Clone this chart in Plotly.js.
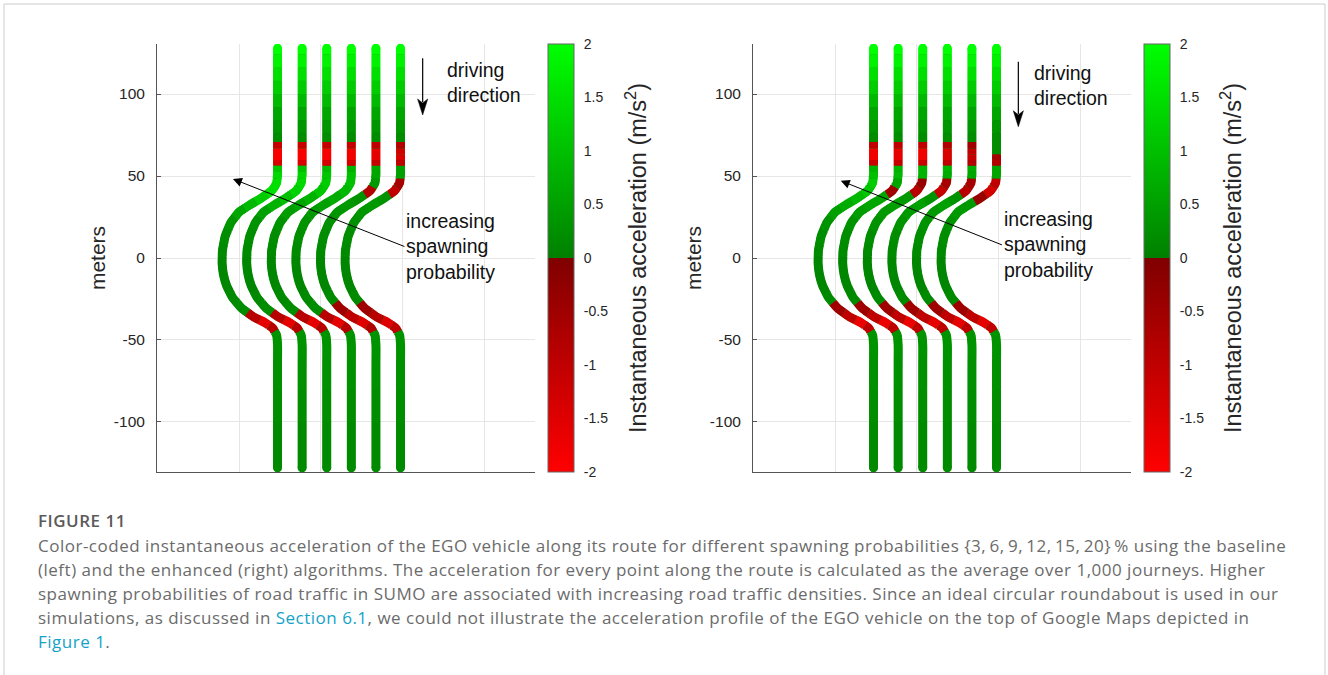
<!DOCTYPE html>
<html><head><meta charset="utf-8">
<script src="https://cdn.plot.ly/plotly-3.0.1.min.js"></script>
<style>html,body{margin:0;padding:0;background:#fff;}#chart{width:1328px;height:675px;}</style>
</head><body><div id="chart"></div>
<script>
// ---------- data ----------
const SPAWN = [3, 6, 9, 12, 15, 20];                 // spawning probabilities (%)
const PATH_X = [-76.5, -61.5, -46.5, -31.5, -16.5, -1.5]; // lane x of each route (m)
// shared route shape (relative x, y in meters), top -> bottom
const ROUTE_DX = [0,0,0,0,0,0,0,0,0,0,0,0,0,0,-0.6,-3.7,-9.8,-17,-23.5,-28.5,-32,-33.6,-33.8,-33,-31,-27.5,-22,-14.5,-7.5,-3,-0.6,0,0,0,0,0];
const ROUTE_Y  = [128,120,112,104,96,88,80,73,68.5,65,61.5,58,54.5,51,45.7,40.9,36.6,32.3,28,21.5,13,4.5,-3,-10,-17,-24,-30.5,-36,-39.5,-42.7,-47,-53,-70,-90,-110,-128];

// baseline algorithm: acceleration (m/s^2) at each route point
const BASE_3  = [2.0,1.8,1.5,1.2,0.9,0.6,0.35,0.2, -1.1,-1.9,-1.9,-1.4, 1.1,1.4,1.5,1.5,1.2,0.9,0.6,0.35,0.2,0.15,0.1,0.1,0.1,0.15,0.2, -0.9,-1.6,-0.9, 0.3,0.3,0.25,0.2,0.15,0.15];
const BASE_6  = [2.0,1.8,1.5,1.2,0.9,0.6,0.35,0.2, -1.1,-1.9,-1.9,-1.4, 1.0,1.3,1.4,1.3,1.0,0.8,0.5,0.3,0.2,0.15,0.1,0.1,0.1,0.15,0.2, -0.9,-1.6,-0.9, 0.3,0.3,0.25,0.2,0.15,0.15];
const BASE_9  = [2.0,1.8,1.5,1.2,0.9,0.6,0.35,0.2, -1.1,-1.9,-1.9,-1.3, 0.9,1.1,1.2,1.1,0.8,0.6,0.45,0.3,0.2,0.15,0.1,0.1,0.1,0.15,0.2, -0.9,-1.6,-0.9, 0.3,0.3,0.25,0.2,0.15,0.15];
const BASE_12 = [2.0,1.8,1.5,1.2,0.9,0.6,0.35,0.2, -1.1,-1.8,-1.8,-1.3, 0.8,1.0,1.0,0.9,0.7,0.5,0.4,0.3,0.2,0.15,0.1,0.1,0.1,0.15,0.2, -0.9,-1.6,-0.9, 0.3,0.3,0.25,0.2,0.15,0.15];
const BASE_15 = [2.0,1.8,1.5,1.2,0.9,0.6,0.35,0.2, -1.0,-1.6,-1.6,-1.1, 0.6,0.6,0.4,-0.8,0.3,0.4,0.35,0.25,0.2,0.15,0.1,0.1,0.1,0.15,-0.5, -1.0,-1.5,-0.8, 0.3,0.3,0.25,0.2,0.15,0.15];
const BASE_20 = [2.0,1.8,1.5,1.2,0.9,0.6,0.35,0.2, -0.8,-1.3,-1.4,-1.0, 0.5,0.5,-0.6,-1.0,0.3,0.4,0.35,0.25,0.2,0.15,0.1,0.1,0.1,0.15,-0.5, -0.9,-1.5,-1.0, 0.3,0.3,0.25,0.2,0.15,0.15];
// enhanced algorithm
const ENH_3  = [2.0,1.8,1.5,1.2,0.9,0.6,0.35,0.2, -1.0,-1.8,-1.8,-1.2, 0.8,1.0,1.2,1.1,0.9,0.7,0.5,0.3,0.2,0.15,0.1,0.1,0.1,0.15,-0.5, -1.0,-1.7,-1.0, 0.3,0.3,0.25,0.2,0.15,0.15];
const ENH_6  = [2.0,1.8,1.5,1.2,0.9,0.6,0.35,0.2, -1.0,-1.6,-1.6,-1.1, 0.8,0.9,0.6,-0.5,0.6,0.6,0.45,0.3,0.2,0.15,0.1,0.1,0.1,0.15,-0.5, -1.0,-1.7,-1.0, 0.3,0.3,0.25,0.2,0.15,0.15];
const ENH_9  = [2.0,1.8,1.5,1.2,0.9,0.6,0.35,0.2, -1.0,-1.8,-1.8,-1.2, 0.8,0.8,-0.4,-0.9,0.4,0.5,0.4,0.3,0.2,0.15,0.1,0.1,0.1,0.15,-0.5, -1.0,-1.7,-1.0, 0.3,0.3,0.25,0.2,0.15,0.15];
const ENH_12 = [2.0,1.8,1.5,1.2,0.9,0.6,0.35,0.2, -0.8,-1.4,-1.4,-1.0, 0.8,0.7,-0.6,-1.1,0.3,0.5,0.4,0.3,0.2,0.15,0.1,0.1,0.1,0.15,-0.5, -1.0,-1.6,-1.0, 0.3,0.3,0.25,0.2,0.15,0.15];
const ENH_15 = [2.0,1.8,1.5,1.2,0.9,0.6,0.35,0.2, -0.5,-1.0,-1.1,-0.8, 0.7,0.6,-0.6,-0.9,0.3,0.5,0.4,0.3,0.2,0.15,0.1,0.1,0.1,0.15,-0.5, -1.0,-1.6,-1.0, 0.3,0.3,0.25,0.2,0.15,0.15];
const ENH_20 = [2.0,1.8,1.5,1.2,0.9,0.6,0.35,0.2, 0.2,0.2,-0.6,-0.8, 0.6,0.6,-1.0,-1.3,-0.4,0.4,0.4,0.3,0.2,0.15,0.1,0.1,0.1,0.15,-0.5, -1.0,-1.6,-1.0, 0.3,0.3,0.25,0.2,0.15,0.15];

const Y_TICKS = [-100, -50, 0, 50, 100];
const Y_LABELS = ['-100', '-50', '0', '50', '100'];
const X_GRID = [-100, -50, 0, 50];
const CB_TICKS = [-2, -1.5, -1, -0.5, 0, 0.5, 1, 1.5, 2];
const CB_LABELS = ['-2', '-1.5', '-1', '-0.5', '0', '0.5', '1', '1.5', '2'];

// ---------- styling ----------
const W = 1328, H = 675;
const FONT = 'Liberation Sans, Arial, sans-serif';
const CAP_FONT = 'Open Sans, Lato, sans-serif';
const LINE_W = 9;
const CS = [[0, 'rgb(255,0,0)'], [0.5, 'rgb(128,0,0)'], [0.5, 'rgb(0,128,0)'], [1, 'rgb(0,255,0)']];

function accColor(neg, mag) {
  const t = Math.min(mag, 2) / 2;
  const c = Math.round(128 + 127 * t);
  return neg ? `rgb(${c},0,0)` : `rgb(0,${c},0)`;
}
function bucketKey(v) { return (v < 0 ? 'n' : 'p') + Math.round(Math.abs(v) * 20); }

function panelTraces(sets, xa, ya, cax) {
  const buckets = {};
  const under = [];
  const mx = [], my = [], mc = [], mt = [];
  const n = ROUTE_Y.length;
  sets.forEach((acc, k) => {
    const px = ROUTE_DX.map(d => d + PATH_X[k]);
    const py = ROUTE_Y;
    under.push({ type: 'scatter', mode: 'lines', x: px, y: py, xaxis: xa, yaxis: ya,
      line: { color: 'rgb(0,140,0)', width: LINE_W - 1, shape: 'spline', smoothing: 0.8 }, hoverinfo: 'skip', showlegend: false });
    const mid = i => [(px[i] + px[i + 1]) / 2, (py[i] + py[i + 1]) / 2];
    let i = 0;
    while (i < n) {
      const key = bucketKey(acc[i]);
      let j = i;
      while (j + 1 < n && bucketKey(acc[j + 1]) === key) j++;
      const xs = [], ys = [];
      if (i > 0) { const m = mid(i - 1); xs.push(m[0]); ys.push(m[1]); }
      for (let t = i; t <= j; t++) { xs.push(px[t]); ys.push(py[t]); }
      if (j < n - 1) { const m = mid(j); xs.push(m[0]); ys.push(m[1]); }
      if (!buckets[key]) buckets[key] = { x: [], y: [], neg: acc[i] < 0, mag: Math.round(Math.abs(acc[i]) * 20) / 20 };
      buckets[key].x.push(...xs, null);
      buckets[key].y.push(...ys, null);
      i = j + 1;
    }
    // round end caps
    [0, n - 1].forEach(t => { mx.push(px[t]); my.push(py[t]); mc.push(acc[t]); mt.push(SPAWN[k] + '%'); });
  });
  const traces = under.concat(Object.keys(buckets).map(key => {
    const b = buckets[key];
    return { type: 'scatter', mode: 'lines', x: b.x, y: b.y, xaxis: xa, yaxis: ya,
      line: { color: accColor(b.neg, b.mag), width: LINE_W, shape: 'spline', smoothing: 0.8 },
      hoverinfo: 'skip', showlegend: false };
  }));
  traces.push({ type: 'scatter', mode: 'markers', x: mx, y: my, xaxis: xa, yaxis: ya, text: mt,
    marker: { color: mc, coloraxis: cax, size: LINE_W, line: { width: 0 } },
    showlegend: false });
  return traces;
}

const data = [
  ...panelTraces([BASE_3, BASE_6, BASE_9, BASE_12, BASE_15, BASE_20], 'x', 'y', 'coloraxis'),
  ...panelTraces([ENH_3, ENH_6, ENH_9, ENH_12, ENH_15, ENH_20], 'x2', 'y2', 'coloraxis2')
];

function xAxis(l, r, anchor) {
  return { domain: [l / W, r / W], range: [-150, 80.5], anchor: anchor, showline: true, linecolor: '#555', linewidth: 1,
    showgrid: true, gridcolor: '#e6e6e6', tickvals: X_GRID, showticklabels: false, ticks: '', zeroline: false, fixedrange: true };
}
function yAxis(anchor) {
  return { domain: [1 - 472 / H, 1 - 44 / H], range: [-130.5, 130.5], anchor: anchor, showline: true, linecolor: '#555', linewidth: 1,
    showgrid: true, gridcolor: '#e6e6e6', tickvals: Y_TICKS, ticktext: Y_LABELS, ticks: 'inside', ticklen: 4, tickcolor: '#555',
    tickfont: { size: 15.5, color: '#262626', family: FONT }, ticklabelstandoff: 8, zeroline: false, fixedrange: true,
    title: { text: 'meters', font: { size: 21, color: '#262626', family: FONT }, standoff: 2 } };
}
function cAxis(x) {
  return { cmin: -2, cmax: 2, colorscale: CS,
    colorbar: { x: x / W, xanchor: 'left', xpad: 0, y: 1 - 44 / H, yanchor: 'top', ypad: 0, len: 428, lenmode: 'pixels',
      thickness: 26, thicknessmode: 'pixels', outlinewidth: 1, outlinecolor: '#666',
      tickvals: CB_TICKS, ticktext: CB_LABELS, ticks: 'outside', ticklen: 7, tickcolor: 'rgba(0,0,0,0)',
      tickfont: { size: 14, color: '#262626', family: FONT } } };
}

const annotations = [];
const shapes = [];
function panelNotes(xr, yr, drv, inc, cbx) {
  // "driving direction" arrow: shaft + notched filled head
  const hl = 9.8, hw = 3.1;
  shapes.push({ type: 'line', xref: xr, yref: yr, x0: drv.ax, x1: drv.ax, y0: drv.tail, y1: drv.tip + hl - 2,
    line: { color: '#000', width: 1.2 } });
  shapes.push({ type: 'path', xref: xr, yref: yr, fillcolor: '#000', line: { color: '#000', width: 0.5 },
    path: `M ${drv.ax} ${drv.tip} L ${drv.ax - hw} ${drv.tip + hl} L ${drv.ax} ${drv.tip + hl - 2.5} L ${drv.ax + hw} ${drv.tip + hl} Z` });
  annotations.push({ xref: xr, yref: yr, x: drv.tx, y: drv.ty, text: 'driving<br>direction', showarrow: false,
    xanchor: 'left', yanchor: 'middle', align: 'left', font: { size: 19.5, color: '#111', family: FONT } });
  // "increasing spawning probability" with its arrow starting at the text
  annotations.push({ xref: xr, yref: yr, axref: xr, ayref: yr, x: inc.hx, y: inc.hy, ax: inc.tx0, ay: inc.ty0,
    text: 'increasing<br>spawning<br>probability', showarrow: true, arrowhead: 2, arrowsize: 1.8, arrowwidth: 1,
    arrowcolor: '#000', standoff: 0, xanchor: 'left', yanchor: 'middle', align: 'left',
    font: { size: 19.5, color: '#111', family: FONT } });
  // colorbar title
  annotations.push({ xref: 'paper', yref: 'paper', x: cbx / W, y: 1 - 258 / H, xanchor: 'center', yanchor: 'middle',
    textangle: -90, showarrow: false, text: 'Instantaneous acceleration (m/s<sup>2</sup>)',
    font: { size: 23.5, color: '#262626', family: FONT } });
}
panelNotes('x', 'y', { ax: 12, tip: 87.2, tail: 121.8, tx: 25.6, ty: 107 },
  { hx: -103.7, hy: 48.2, tx0: 0.9, ty0: 7.0 }, 636);
panelNotes('x2', 'y2', { ax: 11.8, tip: 80, tail: 119.7, tx: 20.3, ty: 105 },
  { hx: -96.5, hy: 47.1, tx0: 1.8, ty0: 8.0 }, 1231);

// caption
const LINK = '#14a3c7';
const SP = 'letter-spacing:0.5px';
const CAPTION = [
  'Color-coded instantaneous acceleration of the EGO vehicle along its route for different spawning probabilities {3,\u20096,\u20099,\u200912,\u200915,\u200920}\u2009% using the baseline',
  '(left) and the enhanced (right) algorithms. The acceleration for every point along the route is calculated as the average over 1,000 journeys. Higher',
  'spawning probabilities of road traffic in SUMO are associated with increasing road traffic densities. Since an ideal circular roundabout is used in our',
  `simulations, as discussed in <span style="color:${LINK};${SP}">Section 6.1</span>, we could not illustrate the acceleration profile of the EGO vehicle on the top of Google Maps depicted in`,
  `<span style="color:${LINK};${SP}">Figure 1</span>.`
];
annotations.push({ xref: 'paper', yref: 'paper', x: 36 / W, y: 1 - 520 / H, xanchor: 'left', yanchor: 'middle', showarrow: false,
  text: `<span style="${SP}">FIGURE 11</span>`, font: { size: 17, color: '#5a5a5a', family: CAP_FONT, weight: 600 } });
CAPTION.forEach((t, i) => {
  const txt = t.split(/(<span[^>]*>[^<]*<\/span>)/).map(s => s.startsWith('<span') ? s : (s ? `<span style="${SP}">${s}</span>` : '')).join('');
  annotations.push({ xref: 'paper', yref: 'paper', x: 36 / W, y: 1 - (545 + 24 * i) / H, xanchor: 'left', yanchor: 'middle',
    showarrow: false, align: 'left', text: txt, font: { size: 17, color: '#6b6b6b', family: CAP_FONT } });
});

shapes.push({ type: 'rect', xref: 'paper', yref: 'paper', x0: 4 / W, x1: 1325 / W, y0: -0.05, y1: 1 - 4 / H,
  line: { color: '#cccccc', width: 1 }, fillcolor: 'rgba(0,0,0,0)', layer: 'below' });

const layout = {
  width: W, height: H, margin: { l: 0, r: 0, t: 0, b: 0 }, paper_bgcolor: '#fff', plot_bgcolor: '#fff', showlegend: false,
  font: { family: FONT, color: '#262626' },
  xaxis: xAxis(157, 535, 'y'), yaxis: yAxis('x'),
  xaxis2: xAxis(753, 1131, 'y2'), yaxis2: yAxis('x2'),
  coloraxis: cAxis(548), coloraxis2: cAxis(1144),
  annotations: annotations,
  shapes: shapes
};

Plotly.newPlot('chart', data, layout, { displayModeBar: false, staticPlot: true });
</script></body></html>
